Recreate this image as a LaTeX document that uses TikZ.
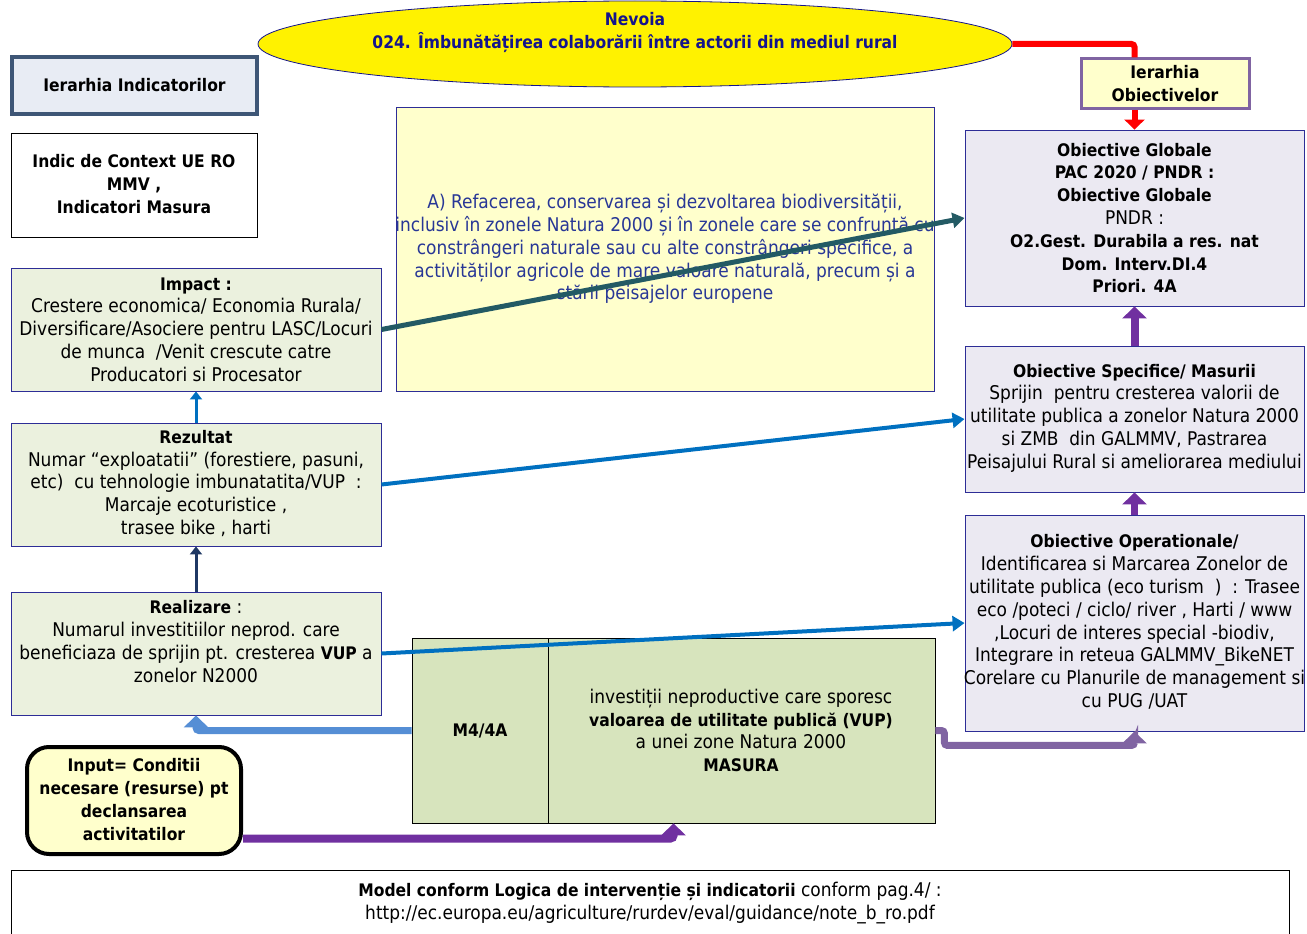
\documentclass[tikz,border=0pt]{standalone}
\usepackage{fontspec}
\setmainfont{DejaVu Sans Condensed}[BoldFeatures={Scale=0.915}]
\usetikzlibrary{arrows.meta,calc,shapes.geometric}
\definecolor{navyt}{RGB}{20,20,140}
\definecolor{bluet}{RGB}{40,55,150}
\definecolor{boxline}{RGB}{45,45,150}
\definecolor{greenf}{RGB}{235,241,222}
\definecolor{lavf}{RGB}{235,233,242}
\definecolor{m4f}{RGB}{215,228,189}
\definecolor{lyel}{RGB}{255,255,204}
\definecolor{iindf}{RGB}{232,236,244}
\definecolor{iindl}{RGB}{62,86,118}
\definecolor{iobl}{RGB}{128,100,162}
\definecolor{arrblue}{RGB}{0,112,192}
\definecolor{arrnavy}{RGB}{31,56,100}
\definecolor{arrlblue}{RGB}{85,142,213}
\definecolor{arrpurp}{RGB}{112,48,160}
\definecolor{arrpurp2}{RGB}{128,100,162}
\definecolor{arrteal}{RGB}{35,90,100}
\begin{document}
\begin{tikzpicture}[x=1pt,y=-1pt,
  font=\fontsize{18.9}{22.8}\selectfont,
  box/.style={draw=boxline,line width=0.9pt,inner sep=0pt,rectangle},
  txt/.style={align=center,inner sep=0pt},
  thinA/.style={line width=3pt,-{Triangle[length=8pt,width=12pt]}},
  diagA/.style={line width=4pt,-{Triangle[length=12pt,width=15pt]}},
  fatA/.style={line width=8pt,rounded corners=3pt,-{Triangle[length=12pt,width=24pt]}},
  redA/.style={draw=red,line width=6pt,rounded corners=3pt}]
\useasboundingbox (0,0) rectangle (1307,934);

% top ellipse
\node[ellipse,draw=navyt,line width=0.8pt,fill=yellow,minimum width=754pt,minimum height=86pt,inner sep=0pt] (ell) at (635,44) {};
\node[txt,text=navyt,font=\fontsize{18.9}{22.8}\selectfont\bfseries] (tell) at (635,32.5) {Nevoia\\024. Îmbunătățirea colaborării între actorii din mediul rural};

% left header boxes
\node[box,draw=iindl,line width=4pt,fill=iindf,minimum width=245pt,minimum height=57pt] (iind) at (134.5,85.5) {};
\node[txt,font=\fontsize{18.9}{22.8}\selectfont\bfseries] (tiind) at (iind) {Ierarhia Indicatorilor};
\node[box,draw=black,line width=0.8pt,fill=white,minimum width=246pt,minimum height=104pt] (ctx) at (134,185) {};
\node[txt,font=\fontsize{18.9}{22.8}\selectfont\bfseries] (tctx) at (134,184) {Indic de Context UE RO\\MMV ,\\Indicatori Masura};

% yellow text box
\node[box,fill=lyel,minimum width=538pt,minimum height=284pt] (yel) at (665,249) {};
\node[txt,text=bluet] (tyel) at (665,249) {A) Refacerea, conservarea și dezvoltarea biodiversității,\\inclusiv în zonele Natura 2000 și în zonele care se confruntă cu\\constrângeri naturale sau cu alte constrângeri specifice, a\\activităților agricole de mare valoare naturală, precum și a\\stării peisajelor europene};

% objectives hierarchy
\node[box,draw=iobl,line width=3pt,fill=lyel,minimum width=168pt,minimum height=49pt] (iob) at (1165,83.5) {};
\node[txt,font=\fontsize{18.9}{22.8}\selectfont\bfseries] (tiob) at (iob) {Ierarhia\\Obiectivelor};

\node[box,fill=lavf,minimum width=339pt,minimum height=176pt] (og) at (1134.5,218) {};
\node[txt,font=\fontsize{18.9}{22.8}\selectfont\bfseries] (tog) at (1134.5,218) {Obiective Globale\\PAC 2020 / PNDR :\\Obiective Globale\\\mdseries PNDR :\\O2.Gest. Durabila a res. nat\\Dom. Interv.DI.4\\Priori. 4A};

\node[box,fill=lavf,minimum width=339pt,minimum height=146pt] (os) at (1134.5,419) {};
\node[txt] (tos) at (1134.5,418) {\textbf{Obiective Specifice/ Masurii}\\Sprijin\ \ pentru cresterea valorii de\\utilitate publica a zonelor Natura 2000\\si ZMB\ \ din GALMMV, Pastrarea\\Peisajului Rural si ameliorarea mediului};

\node[box,fill=lavf,minimum width=339pt,minimum height=216pt] (oo) at (1134.5,623) {};
\node[txt] (too) at (1134.5,622) {\textbf{Obiective Operationale/}\\Identificarea si Marcarea Zonelor de\\utilitate publica (eco turism\ \ )\ \ : Trasee\\eco /poteci / ciclo/ river , Harti / www\\,Locuri de interes special -biodiv,\\Integrare in reteua GALMMV\_BikeNET\\Corelare cu Planurile de management si\\cu PUG /UAT};

% indicator boxes
\node[box,fill=greenf,minimum width=370pt,minimum height=123pt] (imp) at (196,329.5) {};
\node[txt] (timp) at (196,329.5) {\textbf{Impact :}\\Crestere economica/ Economia Rurala/\\Diversificare/Asociere pentru LASC/Locuri\\de munca\ \ /Venit crescute catre\\Producatori si Procesator};

\node[box,fill=greenf,minimum width=370pt,minimum height=123pt] (rez) at (196,484.5) {};
\node[txt] (trez) at (196,483.5) {\textbf{Rezultat}\\Numar “exploatatii” (forestiere, pasuni,\\etc)\ \ cu tehnologie imbunatatita/VUP\ \ :\\Marcaje ecoturistice ,\\trasee bike , harti};

\node[box,fill=greenf,minimum width=370pt,minimum height=123pt] (real) at (196,653.5) {};
\node[txt] (treal) at (196,641.5) {\textbf{Realizare} :\\Numarul investitiilor neprod. care\\beneficiaza de sprijin pt. cresterea \textbf{VUP} a\\zonelor N2000};

% measure box
\node[box,draw=black,line width=0.8pt,fill=m4f,minimum width=523pt,minimum height=185pt] (m4) at (673.5,730.5) {};
\coordinate (divt) at (548,638);
\coordinate (divb) at (548,823);
\draw[black,line width=0.8pt] (divt) -- (divb);
\node[txt,font=\fontsize{18.9}{22.8}\selectfont\bfseries] (tm4a) at (480,731) {M4/4A};
\node[txt] (tm4) at (741,730.5) {investiții neproductive care sporesc\\\textbf{valoarea de utilitate publică (VUP)}\\a unei zone Natura 2000\\\textbf{MASURA}};

% input box
\node[box,draw=black,line width=4pt,fill=lyel,rounded corners=22pt,minimum width=214pt,minimum height=107pt] (inp) at (134,800.5) {};
\node[txt,font=\fontsize{18.9}{22.8}\selectfont\bfseries] (tinp) at (134,799.5) {Input= Conditii\\necesare (resurse) pt\\declansarea\\activitatilor};

% bottom note
\coordinate (nbl) at (11,870);
\coordinate (ntr) at (1289,945);
\draw[black,line width=0.8pt,fill=white] (nbl) rectangle (ntr);
\node[txt] (tnote) at (650,903) {\textbf{Model conform Logica de intervenție și indicatorii} conform pag.4/ :\\http://ec.europa.eu/agriculture/rurdev/eval/guidance/note\_b\_ro.pdf};

% connectors
\draw[redA] (ell.east) -| (og.north |- iob.north);
\draw[redA,-{Triangle[length=10pt,width=20pt]},rounded corners=0pt] (og.north |- iob.south) -- (og.north);
\draw[fatA,draw=arrpurp] (os.north) -- (og.south);
\draw[fatA,draw=arrpurp,line width=7pt] (oo.north) -- (os.south);
\draw[thinA,draw=arrblue] (rez.north) -- (imp.south);
\draw[thinA,draw=arrnavy] (real.north) -- (rez.south);
\draw[fatA,draw=arrlblue,line width=7pt] (m4.west) -| (real.south);
\draw[fatA,draw=arrpurp2,line width=7pt] (m4.east) -- ++(9,0) |- ([yshift=-14pt]oo.south) -- (oo.south);
\draw[fatA,draw=arrpurp] ([yshift=-38pt]inp.east) -| (m4.south);
\draw[diagA,draw=arrteal,line width=5pt] (imp.east) -- (og.west);
\draw[diagA,draw=arrblue] (rez.east) -- (os.west);
\draw[diagA,draw=arrblue] (real.east) -- (oo.west);
\end{tikzpicture}
\end{document}
